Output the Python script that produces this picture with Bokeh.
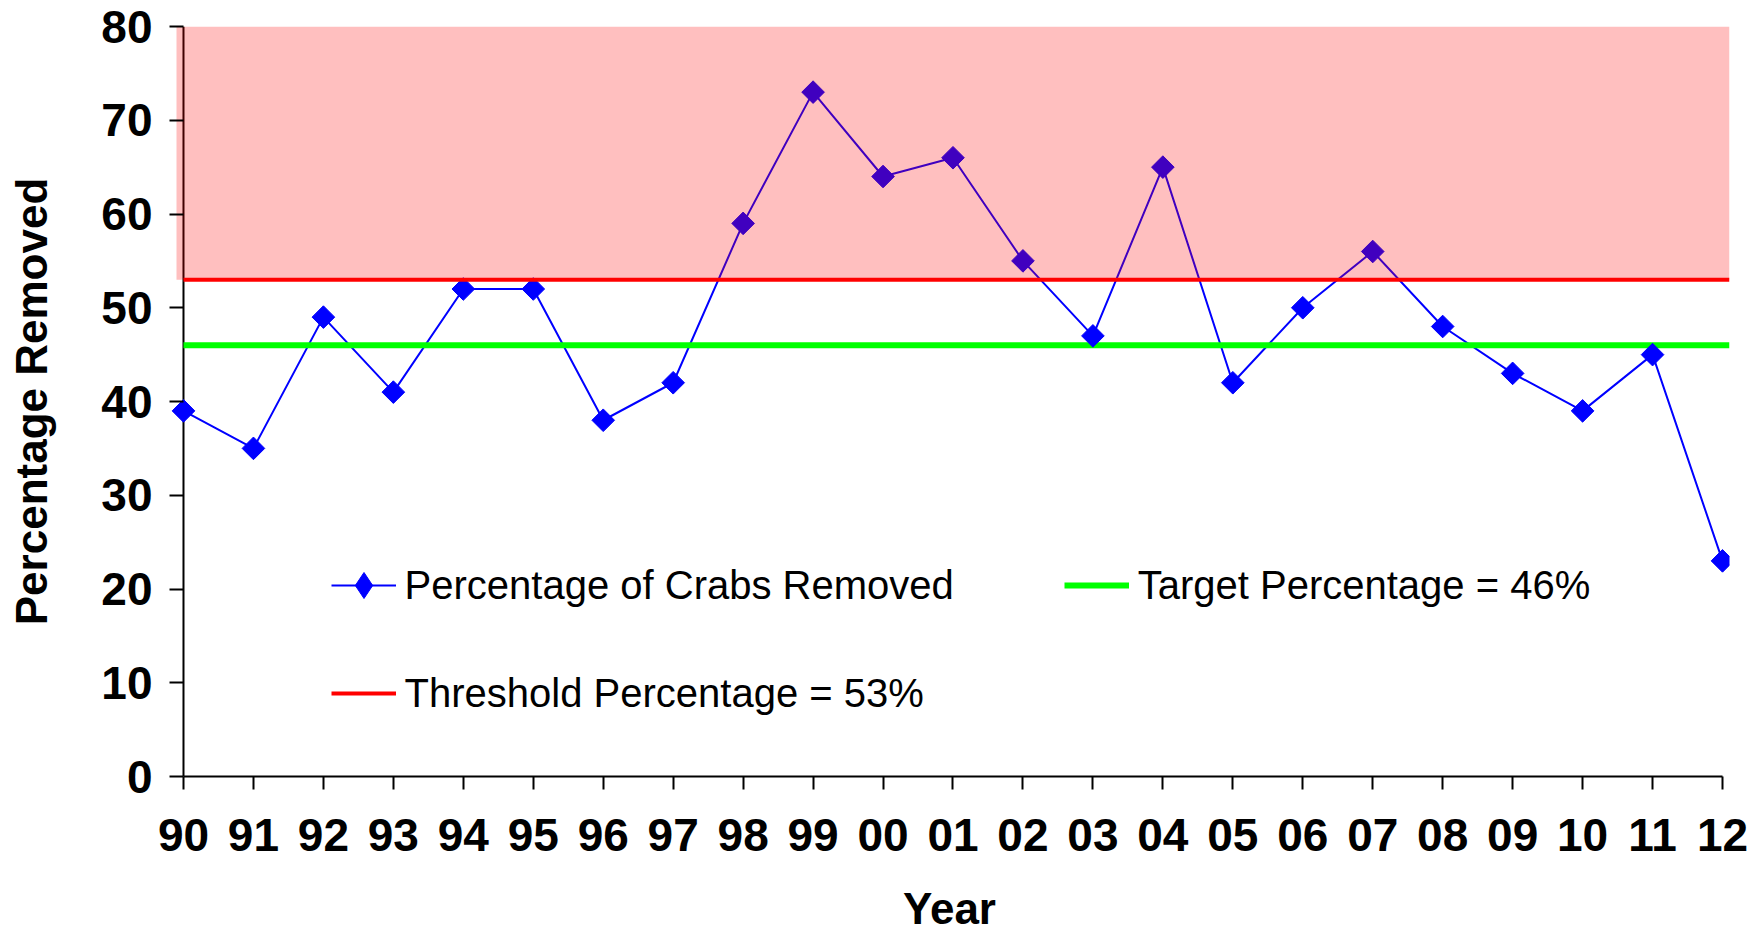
import math
from bokeh.plotting import figure
from bokeh.models import FixedTicker, Legend, LegendItem, Range1d, Span
from bokeh.embed import file_html
from bokeh.resources import INLINE

# ---- data ----
years = ["90", "91", "92", "93", "94", "95", "96", "97", "98", "99", "00",
         "01", "02", "03", "04", "05", "06", "07", "08", "09", "10", "11", "12"]
crabs_pct = [39, 35, 49, 41, 52, 52, 38, 42, 59, 73, 64, 66, 55, 47, 65, 42,
             50, 56, 48, 43, 39, 45, 23]
target_pct = 46
threshold_pct = 53
y_max = 80
y_ticks = [0, 10, 20, 30, 40, 50, 60, 70, 80]

x = list(range(len(years)))
x_lo = -0.2
x_hi = len(years) - 1 + 0.1
band_lo = -0.1

FONT = "Liberation Sans"

p = figure(width=1755, height=935,
           x_range=Range1d(x_lo, x_hi), y_range=Range1d(0, y_max),
           output_backend="svg", toolbar_location=None,
           min_border_left=169, min_border_right=26,
           min_border_top=26, min_border_bottom=157)

p.xgrid.visible = False
p.ygrid.visible = False
p.outline_line_color = None
p.background_fill_color = "white"
p.border_fill_color = "white"

# y-axis line drawn at the first year
p.add_layout(Span(location=x[0], dimension="height", line_color="black",
                  line_width=2, level="underlay"))

r_line = p.line(x, crabs_pct, line_color="#0000FF", line_width=2)
r_target = p.line([x[0], x_hi], [target_pct, target_pct],
                  line_color="#00FF00", line_width=6)
# diamond used only for the legend swatch (zero size in the plot)
r_leg_mark = p.scatter(x, crabs_pct, marker="diamond", size=0,
                       fill_color="#0000FF", line_color="#0000FF")
p.scatter(x, crabs_pct, marker="square", angle=math.pi / 4, size=16,
          fill_color="#0000FF", line_color="#0000FF")
p.quad(left=[band_lo], right=[x_hi], bottom=[threshold_pct], top=[y_max],
       fill_color="#FF0000", fill_alpha=0.25, line_color=None)
r_thresh = p.line([x[0], x_hi], [threshold_pct, threshold_pct],
                  line_color="#FF0000", line_width=4)

# axes
for ax in (p.xaxis, p.yaxis):
    ax.axis_line_color = "black"
    ax.axis_line_width = 2
    ax.major_tick_line_color = "black"
    ax.major_tick_line_width = 2
    ax.major_tick_out = 13
    ax.major_tick_in = 0
    ax.minor_tick_line_color = None
    ax.major_label_text_font = FONT
    ax.major_label_text_font_style = "bold"
    ax.major_label_text_font_size = "46px"
    ax.major_label_text_color = "black"
    ax.axis_label_text_font = FONT
    ax.axis_label_text_font_style = "bold"
    ax.axis_label_text_font_size = "44px"
    ax.axis_label_text_color = "black"

p.xaxis.ticker = FixedTicker(ticks=x)
p.xaxis.major_label_overrides = {i: y for i, y in zip(x, years)}
p.xaxis.bounds = (x[0], x[-1])
p.xaxis.axis_label = "Year"
p.xaxis.major_label_standoff = 29
p.xaxis.axis_label_standoff = 30

p.yaxis.ticker = FixedTicker(ticks=y_ticks)
p.yaxis.axis_line_color = None
p.yaxis.major_tick_in = 14
p.yaxis.major_tick_out = 0
p.yaxis.axis_label = "Percentage Removed"
p.yaxis.major_label_standoff = 17
p.yaxis.axis_label_standoff = 42

common = dict(orientation="vertical", glyph_width=65, glyph_height=66,
              label_height=66, spacing=42, padding=0, margin=0,
              border_line_color=None, background_fill_alpha=0,
              label_text_font=FONT, label_text_font_size="40px",
              label_text_color="black", label_standoff=9)

leg1 = Legend(items=[
    LegendItem(label="Percentage of Crabs Removed", renderers=[r_line, r_leg_mark]),
    LegendItem(label=f"Threshold Percentage = {threshold_pct}%", renderers=[r_thresh]),
], location=(161.6, 50), **common)
leg2 = Legend(items=[
    LegendItem(label=f"Target Percentage = {target_pct}%", renderers=[r_target]),
], location=(894.7, 158), **common)
p.add_layout(leg1)
p.add_layout(leg2)

open("out.html", "w").write(file_html(p, INLINE))
